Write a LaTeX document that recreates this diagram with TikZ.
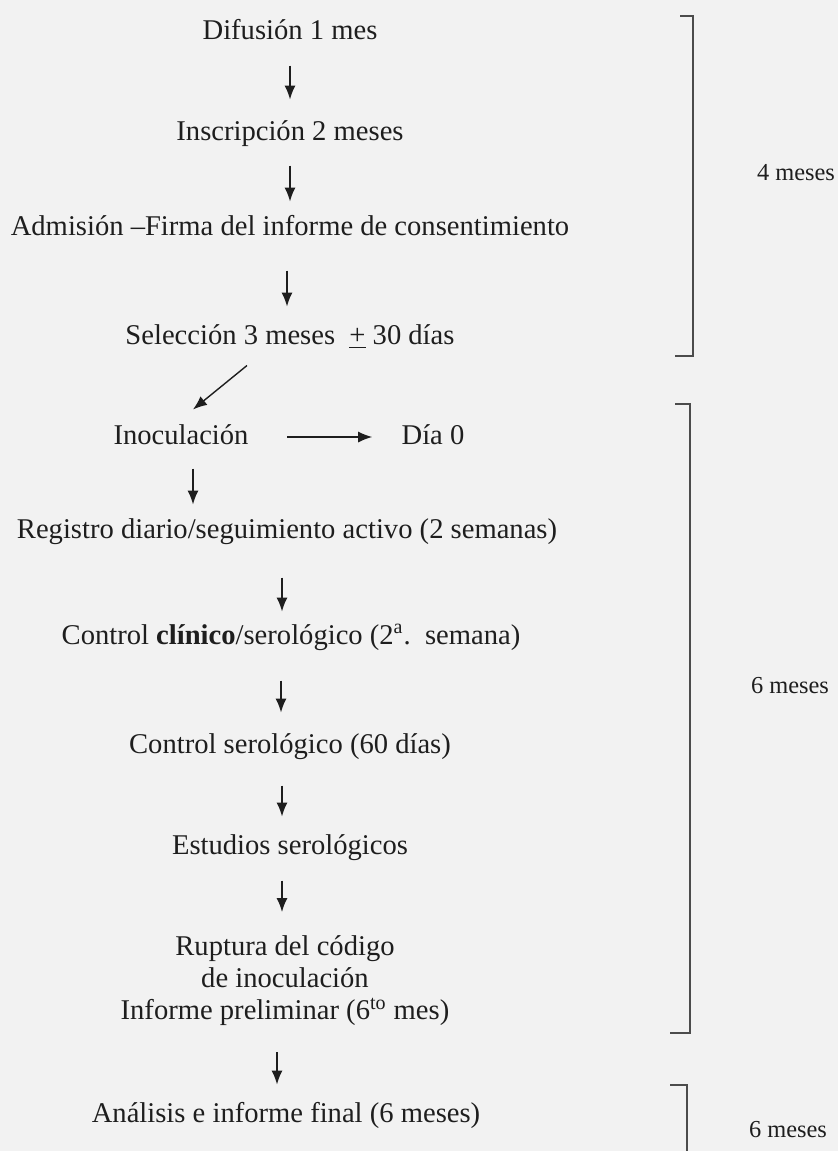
\documentclass[tikz,border=0pt]{standalone}
\usepackage{fontspec}
\setmainfont{Liberation Serif}
\usetikzlibrary{arrows.meta}
\definecolor{fondo}{RGB}{242,242,242}
\definecolor{tinta}{RGB}{30,30,30}

\begin{document}
\begin{tikzpicture}[x=0.5pt, y=-0.5pt,
        paso/.style={inner sep=0pt, text height=10.3pt, text depth=3.2pt, text=tinta, font=\fontsize{14.3}{16}\selectfont},
        pasos/.style={inner sep=0pt, align=center, text=tinta, font=\fontsize{14.3}{16}\selectfont},
        plazo/.style={inner sep=0pt, text=tinta, font=\fontsize{12.2}{14}\selectfont},
        flecha/.style={line width=0.7pt, draw=tinta, -{Latex[length=7pt, width=5.5pt]}},
        llave/.style={line width=0.8pt, draw=black!70}]

        \fill[fondo] (0,0) rectangle (838,1151);
        \useasboundingbox (0,0) rectangle (838,1151);

        \node[paso] (dif) at (290,32) {Difusión 1 mes};
        \node[paso] (insc) at (290,133) {Inscripción 2 meses};
        \node[paso] (adm) at (290,228) {Admisión --Firma del informe de consentimiento};
        \node[paso] (sel) at (290,337) {Selección 3 meses\ \ \underline{+} 30 días};
        \node[paso] (inoc) at (181,437) {Inoculación};
        \node[paso] (dia) at (433,437) {Día 0};
        \node[paso] (reg) at (287,531) {Registro diario/seguimiento activo (2 semanas)};
        \node[paso] (cc) at (291,637) {Control \textbf{clínico}/serológico (2\textsuperscript{a}.\ \ semana)};
        \node[paso] (cs) at (290,746) {Control serológico (60 días)};
        \node[paso] (est) at (290,847) {Estudios serológicos};
        \node[pasos] (rup) at (285,981) {Ruptura del código\\de inoculación\\Informe preliminar (6\textsuperscript{to} mes)};
        \node[paso] (ana) at (286,1115) {Análisis e informe final (6 meses)};

        \draw[flecha, shorten <=9.8pt, shorten >=9.8pt] (dif) -- (insc);
        \draw[flecha, shorten <=9.3pt, shorten >=6.3pt] (insc) -- (adm);
        \draw[flecha, shorten <=14.3pt, shorten >=8.3pt] ([xshift=-1.5pt]adm.south) -- ([xshift=-1.5pt]adm.south |- sel.north);
        \draw[flecha] ([xshift=-21.5pt, yshift=-7.3pt]sel.south) -- ([xshift=6pt, yshift=6.8pt]inoc.north);
        \draw[flecha, shorten <=19.2pt, shorten >=14.5pt] (inoc) -- (dia);
        \draw[flecha, shorten <=8.8pt, shorten >=6.3pt] ([xshift=6pt]inoc.south) -- ([xshift=6pt]inoc.south |- reg.north);
        \draw[flecha, shorten <=16.3pt, shorten >=5.8pt] ([xshift=-2.5pt]reg.south) -- ([xshift=-2.5pt]reg.south |- cc.north);
        \draw[flecha, shorten <=14.8pt, shorten >=9.8pt] ([xshift=-5pt]cc.south) -- ([xshift=-5pt]cc.south |- cs.north);
        \draw[flecha, shorten <=12.8pt, shorten >=8.3pt] ([xshift=-4pt]cs.south) -- ([xshift=-4pt]cs.south |- est.north);
        \draw[flecha, shorten <=9.8pt, shorten >=11.8pt] ([xshift=-4pt]est.south) -- ([xshift=-4pt]est.south |- rup.north);
        \draw[flecha, shorten <=12.8pt, shorten >=8.3pt] ([xshift=-4pt]rup.south) -- ([xshift=-4pt]rup.south |- ana.north);

        \draw[llave] (680,16) -- (693,16) -- (693,356) -- (675,356);
        \draw[llave] (675,404) -- (690,404) -- (690,1033) -- (670,1033);
        \draw[llave] (670,1085) -- (687,1085) -- (687,1151);

        \node[plazo] (m4) at (796,173) {4 meses};
        \node[plazo] (m6) at (790,686) {6 meses};
        \node[plazo] (m6b) at (788,1130) {6 meses};

\end{tikzpicture}
\end{document}
